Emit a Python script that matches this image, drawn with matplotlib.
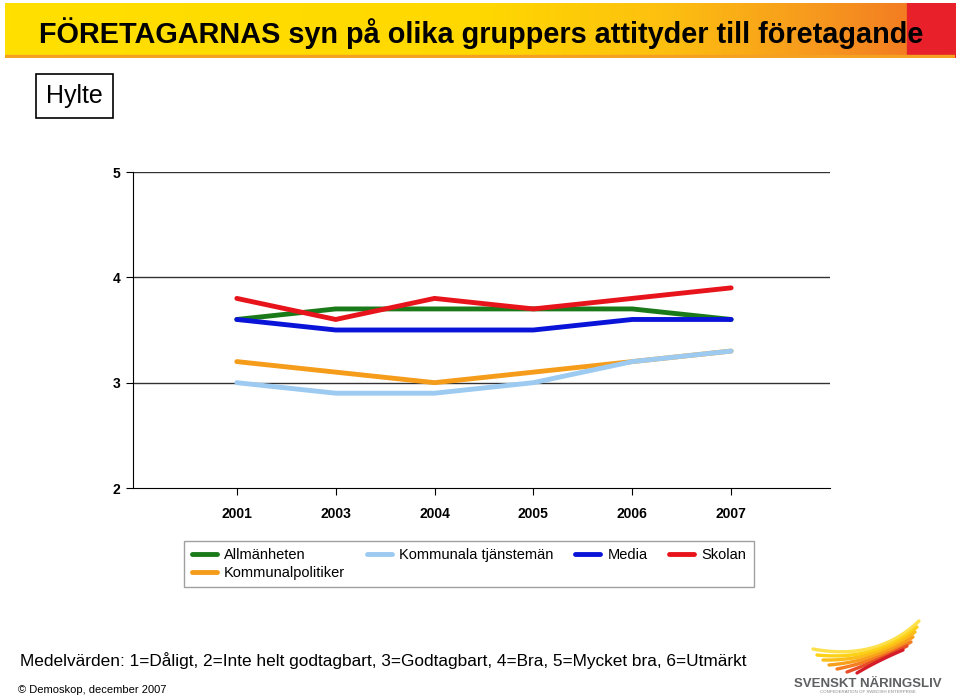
import numpy as np
import matplotlib.pyplot as plt
from matplotlib.colors import LinearSegmentedColormap

plt.rcParams['font.family'] = ['Liberation Sans', 'DejaVu Sans']

years = ['2001', '2003', '2004', '2005', '2006', '2007']
allmanheten = [3.6, 3.7, 3.7, 3.7, 3.7, 3.6]
kommunalpolitiker = [3.2, 3.1, 3.0, 3.1, 3.2, 3.3]
kommunala_tjm = [3.0, 2.9, 2.9, 3.0, 3.2, 3.3]
media = [3.6, 3.5, 3.5, 3.5, 3.6, 3.6]
skolan = [3.8, 3.6, 3.8, 3.7, 3.8, 3.9]

series = [
    ('Allmänheten', allmanheten, '#1a7a1a'),
    ('Kommunalpolitiker', kommunalpolitiker, '#f59c1a'),
    ('Kommunala tjänstemän', kommunala_tjm, '#9ccaf0'),
    ('Media', media, '#0a14d8'),
    ('Skolan', skolan, '#e8141c'),
]

W, H = 960, 698
fig = plt.figure(figsize=(9.6, 6.98), dpi=100)


def px(x0, y0, x1, y1):
    # pixel box (top-left origin) -> figure rect
    return [x0 / W, 1 - y1 / H, (x1 - x0) / W, (y1 - y0) / H]


# title banner
bax = fig.add_axes(px(5, 3, 955, 58))
cmap = LinearSegmentedColormap.from_list('banner', [
    (0.0, '#ffe000'), (0.5, '#ffd800'), (0.7, '#fdbf10'),
    (0.85, '#f79a1e'), (0.95, '#f37d22'), (0.9501, '#e8202a'), (1.0, '#e8202a')])
grad = np.linspace(0, 1, 600).reshape(1, -1)
bax.imshow(grad, aspect='auto', cmap=cmap, extent=[0, 1, 0, 1])
bax.axhspan(0, 0.06, color='#f5a020')
bax.set_xlim(0, 1)
bax.set_ylim(0, 1)
bax.axis('off')
fig.text(481 / W, 1 - 33 / H, 'FÖRETAGARNAS syn på olika gruppers attityder till företagande',
         ha='center', va='center', fontsize=20.8, fontweight='bold', color='black')

# Hylte box
fig.text(74.5 / W, 1 - 96 / H, 'Hylte', ha='center', va='center', fontsize=18,
         bbox=dict(boxstyle='square,pad=0.4', fc='white', ec='black', lw=1.2))

# chart
ax = fig.add_axes(px(133, 172, 830, 488))
x = np.arange(len(years))
for name, vals, col in series:
    ax.plot(x, vals, color=col, lw=3.5, label=name, solid_capstyle='round')

ax.set_xlim(-1.05, 6.0)
ax.set_ylim(2, 5)
ax.set_yticks([2, 3, 4, 5])
ax.set_yticklabels(['2', '3', '4', '5'], fontsize=10, fontweight='bold')
ax.set_xticks(x)
ax.set_xticklabels(years, fontsize=10, fontweight='bold')
ax.tick_params(axis='x', direction='out', length=5, pad=9)
ax.tick_params(axis='y', direction='out', length=5, pad=4)
for yv in [3, 4, 5]:
    ax.axhline(yv, color='#333333', lw=1.0, zorder=0)
for s in ['top', 'right']:
    ax.spines[s].set_visible(False)

handles, labels = ax.get_legend_handles_labels()
leg = fig.legend(handles, labels, ncol=4, loc='center', bbox_to_anchor=(469 / W, 1 - 564 / H),
                 fontsize=10.5, frameon=True, fancybox=False, edgecolor='#888888',
                 handlelength=1.7, columnspacing=1.5, handletextpad=0.5,
                 labelspacing=0.3, borderpad=0.5)
leg.get_frame().set_linewidth(1.0)

# footer
fig.text(20 / W, 1 - 661 / H,
         'Medelvärden: 1=Dåligt, 2=Inte helt godtagbart, 3=Godtagbart, 4=Bra, 5=Mycket bra, 6=Utmärkt',
         ha='left', va='center', fontsize=12.4)
fig.text(18 / W, 1 - 690 / H, '© Demoskop, december 2007', ha='left', va='center', fontsize=8)

# logo (rough sketch of the wing)
lax = fig.add_axes(px(795, 615, 955, 698))
lax.set_xlim(0, 160)
lax.set_ylim(83, 0)
lax.axis('off')
starts = [(18, 34), (22, 40), (28, 45), (34, 50), (42, 54), (52, 57), (62, 58)]
ends = [(124, 6), (122, 12), (120, 17), (118, 22), (116, 27), (112, 31), (108, 35)]
wing_cols = ['#fde04a', '#fcd116', '#fbbd18', '#f8a01c', '#f47d20', '#e84e25', '#d51c29']
t = np.linspace(0, 1, 40)
for (sx, sy), (ex, ey), c in zip(starts, ends, wing_cols):
    cx, cy = 82, 46
    bx = (1 - t) ** 2 * sx + 2 * (1 - t) * t * cx + t ** 2 * ex
    by = (1 - t) ** 2 * sy + 2 * (1 - t) * t * cy + t ** 2 * ey
    lax.plot(bx, by, color=c, lw=2.4, solid_capstyle='round')
lax.text(73, 69, 'SVENSKT NÄRINGSLIV', ha='center', va='center', fontsize=9.5,
         fontweight='bold', color='#5f6062')
lax.text(73, 77, 'CONFEDERATION OF SWEDISH ENTERPRISE', ha='center', va='center',
         fontsize=3.2, color='#888888')

fig.savefig('out.png', dpi=100)
